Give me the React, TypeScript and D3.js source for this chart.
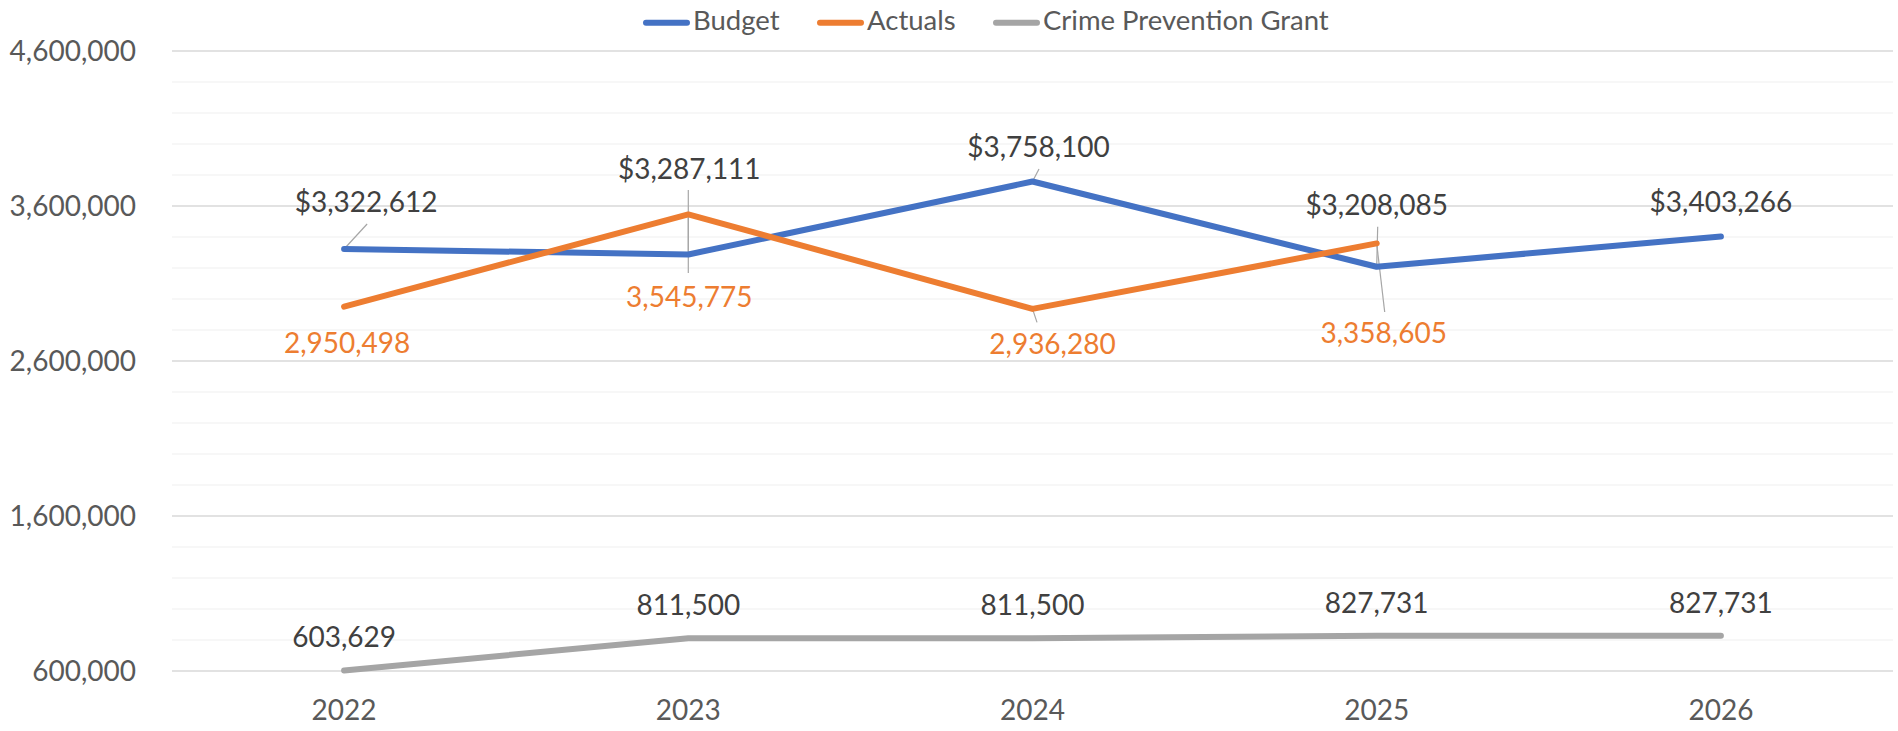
import React from "react";
import * as d3 from "d3";

const years = ["2022", "2023", "2024", "2025", "2026"];
const budget = [3322612, 3287111, 3758100, 3208085, 3403266];
const actuals: (number | null)[] = [2950498, 3545775, 2936280, 3358605, null];
const grant = [603629, 811500, 811500, 827731, 827731];
const yTicks = [600000, 1600000, 2600000, 3600000, 4600000];
const seriesNames = ["Budget", "Actuals", "Crime Prevention Grant"];

// layout: label offsets relative to each point (dx, baseline dy, optional leader start)
const budgetLabelLayout = [
  { dx: 22, dy: -37, lx: 23, ly: -25 },
  { dx: 1, dy: -75.5, lx: 0, ly: -64.5 },
  { dx: 6, dy: -24.5, lx: 6.5, ly: -12.5 },
  { dx: 0, dy: -51.7, lx: 1, ly: -40 },
  { dx: 0, dy: -24, lx: null, ly: null },
];
const actualLabelLayout = [
  { dx: 3, dy: 46, lx: null, ly: null },
  { dx: 1, dy: 92.6, lx: 0, ly: 58.6 },
  { dx: 20, dy: 45, lx: 4.5, ly: 13.5 },
  { dx: 7, dy: 100, lx: 8, ly: 68.6 },
  { dx: 0, dy: 0, lx: null, ly: null },
];

const W = 1898;
const H = 731;
const FONT = "Lato, 'Open Sans', sans-serif";
const COLORS = ["#4472C4", "#ED7D31", "#A5A5A5"];
const FS = 28;

export default function App() {
  const x = d3.scaleBand().domain(years).range([172, 1893]);
  const cx = (yr: string) => (x(yr) as number) + x.bandwidth() / 2;
  const y = d3.scaleLinear().domain([600000, 4600000]).range([671, 51]);
  const minor = d3.range(600000, 4600001, 200000);
  const fmt = d3.format(",");
  const fmtD = (v: number) => "$" + d3.format(",")(v);

  const line = d3
    .line<[string, number | null]>()
    .defined((d) => d[1] != null)
    .x((d) => cx(d[0]))
    .y((d) => y(d[1] as number));

  const series = [budget, actuals, grant];

  const legendX = [643, 817, 993];

  return (
    <svg
      width={W}
      height={H}
      style={{ position: "absolute", left: 0, top: 0, background: "#fff" }}
      fontFamily={FONT}
    >
      {/* gridlines */}
      {minor.map((v) => (
        <line
          key={"m" + v}
          x1={172}
          x2={1893}
          y1={y(v)}
          y2={y(v)}
          stroke={yTicks.includes(v) ? "#D9D9D9" : "#F0F0F0"}
          strokeWidth={yTicks.includes(v) ? 1.5 : 1.2}
        />
      ))}
      {/* y labels */}
      {yTicks.map((v) => (
        <text
          key={"y" + v}
          x={136}
          y={y(v) + 10}
          textAnchor="end"
          fontSize={FS}
          fill="#595959"
        >
          {fmt(v)}
        </text>
      ))}
      {/* x labels */}
      {years.map((yr) => (
        <text key={"x" + yr} x={cx(yr)} y={720} textAnchor="middle" fontSize={FS} fill="#595959">
          {yr}
        </text>
      ))}
      {/* leader lines */}
      {budgetLabelLayout.map((l, i) =>
        l.lx == null ? null : (
          <line
            key={"bl" + i}
            x1={cx(years[i]) + l.lx}
            y1={y(budget[i]) + (l.ly as number)}
            x2={cx(years[i])}
            y2={y(budget[i])}
            stroke="#A6A6A6"
            strokeWidth={1.2}
          />
        )
      )}
      {actualLabelLayout.map((l, i) =>
        l.lx == null || actuals[i] == null ? null : (
          <line
            key={"al" + i}
            x1={cx(years[i]) + l.lx}
            y1={y(actuals[i] as number) + (l.ly as number)}
            x2={cx(years[i])}
            y2={y(actuals[i] as number)}
            stroke="#A6A6A6"
            strokeWidth={1.2}
          />
        )
      )}
      {/* lines */}
      {series.map((s, si) => (
        <path
          key={"s" + si}
          d={line(years.map((yr, i) => [yr, s[i]] as [string, number | null])) || ""}
          fill="none"
          stroke={COLORS[si]}
          strokeWidth={6}
          strokeLinecap="round"
          strokeLinejoin="round"
        />
      ))}
      {/* data labels */}
      {budget.map((v, i) => (
        <text
          key={"bt" + i}
          x={cx(years[i]) + budgetLabelLayout[i].dx}
          y={y(v) + budgetLabelLayout[i].dy}
          textAnchor="middle"
          fontSize={FS}
          fill="#404040"
        >
          {fmtD(v)}
        </text>
      ))}
      {actuals.map((v, i) =>
        v == null ? null : (
          <text
            key={"at" + i}
            x={cx(years[i]) + actualLabelLayout[i].dx}
            y={y(v) + actualLabelLayout[i].dy}
            textAnchor="middle"
            fontSize={FS}
            fill="#ED7D31"
          >
            {fmt(v)}
          </text>
        )
      )}
      {grant.map((v, i) => (
        <text
          key={"gt" + i}
          x={cx(years[i])}
          y={y(v) - 23}
          textAnchor="middle"
          fontSize={FS}
          fill="#404040"
        >
          {fmt(v)}
        </text>
      ))}
      {/* legend */}
      {seriesNames.map((n, i) => (
        <g key={"lg" + i}>
          <line
            x1={legendX[i] + 3}
            x2={legendX[i] + 44}
            y1={22.7}
            y2={22.7}
            stroke={COLORS[i]}
            strokeWidth={6}
            strokeLinecap="round"
          />
          <text x={legendX[i] + 50} y={30} fontSize={27.5} fill="#595959">
            {n}
          </text>
        </g>
      ))}
    </svg>
  );
}
